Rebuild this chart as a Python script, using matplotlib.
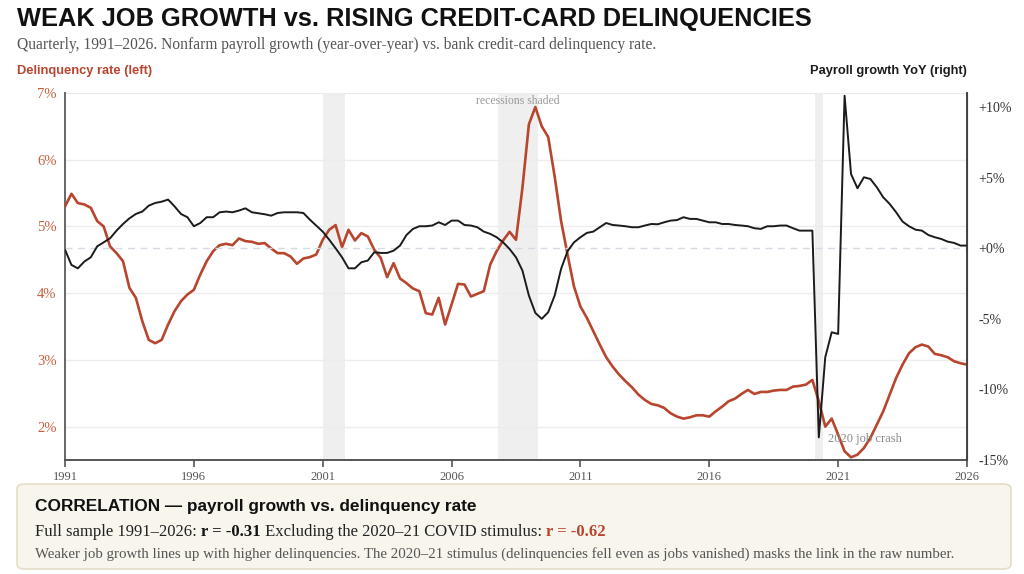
import numpy as np
import matplotlib
matplotlib.use("Agg")
import matplotlib.pyplot as plt
from matplotlib.patches import FancyBboxPatch

# quarterly values, 1991 Q1 .. 2026 Q1
delinquency = [
    5.30, 5.49, 5.35, 5.33,   # 1991
    5.28, 5.08, 5.00, 4.70,   # 1992
    4.60, 4.48, 4.08, 3.93,   # 1993
    3.58, 3.30, 3.25, 3.30,   # 1994
    3.53, 3.73, 3.88, 3.98,   # 1995
    4.05, 4.28, 4.48, 4.63,   # 1996
    4.72, 4.74, 4.72, 4.82,   # 1997
    4.78, 4.77, 4.74, 4.75,   # 1998
    4.67, 4.60, 4.60, 4.55,   # 1999
    4.44, 4.52, 4.54, 4.58,   # 2000
    4.80, 4.95, 5.02, 4.69,   # 2001
    4.95, 4.79, 4.90, 4.85,   # 2002
    4.65, 4.53, 4.24, 4.45,   # 2003
    4.22, 4.15, 4.07, 4.03,   # 2004
    3.70, 3.68, 3.93, 3.53,   # 2005
    3.83, 4.14, 4.13, 3.95,   # 2006
    3.99, 4.03, 4.43, 4.63,   # 2007
    4.79, 4.92, 4.80, 5.58,   # 2008
    6.53, 6.79, 6.50, 6.34,   # 2009
    5.75, 5.08, 4.58, 4.10,   # 2010
    3.80, 3.63, 3.43, 3.23,   # 2011
    3.04, 2.90, 2.78, 2.68,   # 2012
    2.59, 2.48, 2.40, 2.34,   # 2013
    2.32, 2.28, 2.20, 2.15,   # 2014
    2.12, 2.14, 2.17, 2.17,   # 2015
    2.15, 2.23, 2.30, 2.38,   # 2016
    2.42, 2.49, 2.55, 2.49,   # 2017
    2.52, 2.52, 2.54, 2.55,   # 2018
    2.55, 2.60, 2.61, 2.63,   # 2019
    2.70, 2.38, 2.00, 2.12,   # 2020
    1.88, 1.63, 1.54, 1.58,   # 2021
    1.68, 1.83, 2.03, 2.23,   # 2022
    2.48, 2.73, 2.93, 3.10,   # 2023
    3.19, 3.23, 3.20, 3.09,   # 2024
    3.07, 3.04, 2.98, 2.95,   # 2025
    2.93,                     # 2026
]

payroll_yoy = [
    -0.10, -1.18, -1.42, -0.94,   # 1991
    -0.64, 0.14, 0.42, 0.71,      # 1992
    1.25, 1.72, 2.12, 2.43,       # 1993
    2.60, 3.02, 3.21, 3.30,       # 1994
    3.45, 2.97, 2.43, 2.20,       # 1995
    1.56, 1.79, 2.20, 2.20,       # 1996
    2.55, 2.60, 2.55, 2.67,       # 1997
    2.83, 2.55, 2.48, 2.41,       # 1998
    2.31, 2.50, 2.55, 2.55,       # 1999
    2.55, 2.50, 2.03, 1.61,       # 2000
    1.18, 0.61, 0.00, -0.64,      # 2001
    -1.42, -1.42, -0.99, -0.87,   # 2002
    -0.28, -0.33, -0.33, -0.17,   # 2003
    0.19, 0.94, 1.37, 1.56,       # 2004
    1.56, 1.61, 1.84, 1.65,       # 2005
    1.96, 1.96, 1.65, 1.61,       # 2006
    1.49, 1.18, 1.02, 0.78,       # 2007
    0.42, -0.05, -0.64, -1.58,    # 2008
    -3.35, -4.58, -5.00, -4.53,   # 2009
    -3.35, -1.46, -0.21, 0.42,    # 2010
    0.78, 1.09, 1.18, 1.49,       # 2011
    1.79, 1.65, 1.61, 1.56,       # 2012
    1.49, 1.49, 1.61, 1.72,       # 2013
    1.70, 1.84, 1.96, 2.00,       # 2014
    2.20, 2.08, 2.08, 1.96,       # 2015
    1.84, 1.84, 1.72, 1.72,       # 2016
    1.65, 1.61, 1.56, 1.42,       # 2017
    1.37, 1.56, 1.56, 1.61,       # 2018
    1.61, 1.42, 1.25, 1.25,       # 2019
    1.25, -13.4, -7.72, -5.95,    # 2020
    -6.07, 10.8, 5.26, 4.25,      # 2021
    5.03, 4.91, 4.32, 3.61,       # 2022
    3.14, 2.55, 1.89, 1.56,       # 2023
    1.32, 1.25, 0.94, 0.78,       # 2024
    0.66, 0.47, 0.38, 0.19,       # 2025
    0.19,                         # 2026
]

recessions = [(2001.0, 2001.87), (2007.8, 2009.35), (2020.1, 2020.4)]

x_ticks = [1991, 1996, 2001, 2006, 2011, 2016, 2021, 2026]
left_ticks = [2, 3, 4, 5, 6, 7]
right_ticks = [10, 5, 0, -5, -10, -15]
right_labels = ["+10%", "+5%", "+0%", "-5%", "-10%", "-15%"]

RED = "#b8452e"
RED_LABEL = "#c4603f"
INK = "#1b1b1b"
SERIF = "Liberation Serif"
SANS = "Liberation Sans"


def put_runs(fig, x, y, runs):
    # place text pieces one after another on the same baseline
    renderer = fig.canvas.get_renderer()
    for text, props in runs:
        t = fig.text(x, y, text, va="baseline", ha="left", **props)
        bb = t.get_window_extent(renderer)
        x += bb.width / fig.bbox.width


def main():
    quarters = 1991 + np.arange(len(delinquency)) * 0.25

    fig = plt.figure(figsize=(10.24, 5.74), dpi=100)
    W, H = 1024, 574
    ax = fig.add_axes([65 / W, (H - 460) / H, (967 - 65) / W, (460 - 93) / H])
    ax2 = ax.twinx()

    for a, b in recessions:
        ax.axvspan(a, b, color="#efefef", lw=0, zorder=0)

    ax.set_xlim(1991, 2026)
    ax.set_ylim(1.5, 7)
    ax2.set_ylim(-15, 11)

    for v in left_ticks:
        ax.axhline(v, color="#ececec", lw=1, zorder=0.5)
    ax2.axhline(0, color="#d5dae3", lw=1, ls=(0, (5, 4)), zorder=1)

    ax.plot(quarters, delinquency, color=RED, lw=1.9, zorder=3)
    ax2.plot(quarters, payroll_yoy, color=INK, lw=1.4, zorder=3)

    ax.set_yticks(left_ticks)
    ax.set_yticklabels([f"{v}%" for v in left_ticks], family=SERIF,
                       fontsize=10.5, color=RED_LABEL)
    ax2.set_yticks(right_ticks)
    ax2.set_yticklabels(right_labels, family=SERIF, fontsize=10, color="#333333")
    ax.tick_params(axis="y", length=0, pad=6)
    ax2.tick_params(axis="y", length=0, pad=8)

    ax.set_xticks(x_ticks)
    ax.set_xticklabels([str(y) for y in x_ticks], family=SERIF,
                       fontsize=9, color="#555555")
    ax.tick_params(axis="x", length=5, width=1.2, color="#555555", pad=3)

    for a in (ax, ax2):
        a.spines["top"].set_visible(False)
    ax.spines["left"].set_color("#666666")
    ax.spines["left"].set_linewidth(1.4)
    ax.spines["bottom"].set_color("#555555")
    ax.spines["bottom"].set_linewidth(1.4)
    ax2.spines["right"].set_color("#444444")
    ax2.spines["right"].set_linewidth(1.4)
    ax2.spines["left"].set_visible(False)
    ax2.spines["bottom"].set_visible(False)

    ax.text(2008.55, 6.88, "recessions shaded", family=SERIF, fontsize=8.5,
            color="#9a9a9a", ha="center", va="center", zorder=4)
    ax.text(2020.6, 1.82, "2020 job crash", family=SERIF, fontsize=9,
            color="#8a8a8a", ha="left", va="center", zorder=4)

    # header
    fig.text(17 / W, 1 - 19 / H, "WEAK JOB GROWTH vs. RISING CREDIT-CARD DELINQUENCIES",
             family=SANS, fontweight="bold", fontsize=18.3, color="#111111",
             va="center", ha="left")
    fig.text(17 / W, 1 - 45 / H,
             "Quarterly, 1991\u20132026. Nonfarm payroll growth (year-over-year) "
             "vs. bank credit-card delinquency rate.",
             family=SERIF, fontsize=11.2, color="#555555", va="center", ha="left")
    fig.text(17 / W, 1 - 71 / H, "Delinquency rate (left)", family=SANS,
             fontweight="bold", fontsize=9.3, color=RED, va="center", ha="left")
    fig.text(967 / W, 1 - 71 / H, "Payroll growth YoY (right)", family=SANS,
             fontweight="bold", fontsize=9.3, color=INK, va="center", ha="right")

    # correlation box
    box = FancyBboxPatch((17 / W, (H - 569) / H), (1011 - 17) / W, (569 - 484) / H,
                         boxstyle="round,pad=0,rounding_size=0.008",
                         transform=fig.transFigure, facecolor="#f8f5ec",
                         edgecolor="#e4ddc8", lw=1.2)
    fig.patches.append(box)
    fig.text(35 / W, 1 - 511 / H, "CORRELATION \u2014 payroll growth vs. delinquency rate",
             family=SANS, fontweight="bold", fontsize=12.4, color="#111111",
             va="baseline", ha="left")
    body = dict(family=SERIF, fontsize=12, color="#222222")
    put_runs(fig, 35 / W, 1 - 536 / H, [
        ("Full sample 1991\u20132026: ", body),
        ("r = -0.31", dict(body, color="#111111", fontweight="bold")),
        (" Excluding the 2020\u201321 COVID stimulus: ", body),
        ("r = -0.62", dict(body, color=RED, fontweight="bold")),
    ])
    fig.text(35 / W, 1 - 558 / H,
             "Weaker job growth lines up with higher delinquencies. The 2020\u201321 "
             "stimulus (delinquencies fell even as jobs vanished) masks the link in "
             "the raw number.",
             family=SERIF, fontsize=10.7, color="#555555", va="baseline", ha="left")

    fig.savefig("out.png", dpi=100)
    plt.close(fig)


if __name__ == "__main__":
    main()
